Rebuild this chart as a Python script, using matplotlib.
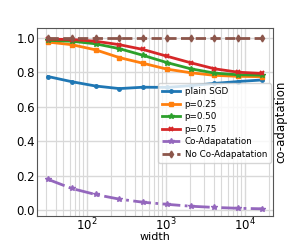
import numpy as np
import matplotlib.pyplot as plt

widths = [32, 64, 128, 256, 512, 1024, 2048, 4096, 8192, 16384]
plain_sgd = [0.775, 0.745, 0.720, 0.705, 0.713, 0.712, 0.722, 0.735, 0.746, 0.755]
p025 = [0.975, 0.960, 0.930, 0.885, 0.852, 0.818, 0.797, 0.782, 0.776, 0.774]
p050 = [0.985, 0.980, 0.965, 0.937, 0.898, 0.856, 0.820, 0.795, 0.785, 0.783]
p075 = [0.992, 0.990, 0.980, 0.960, 0.932, 0.893, 0.855, 0.820, 0.800, 0.793]
co_adapt = [0.178, 0.125, 0.090, 0.063, 0.045, 0.033, 0.022, 0.015, 0.010, 0.007]
no_co_adapt = [1.0] * len(widths)

fig = plt.figure(figsize=(3.03, 2.43), dpi=100)
ax = fig.add_axes([0.123, 0.111, 0.777, 0.7725])

lw = 2.0
ax.plot(widths, plain_sgd, color="#1f77b4", marker=".", ms=5, lw=lw, label="plain SGD")
ax.plot(widths, p025, color="#ff7f0e", marker="s", ms=3.2, lw=lw, label="p=0.25")
ax.plot(widths, p050, color="#2ca02c", marker="*", ms=4, lw=lw, label="p=0.50")
ax.plot(widths, p075, color="#d62728", marker="x", ms=3.5, mew=1.4, lw=lw, label="p=0.75")
ax.plot(widths, co_adapt, color="#9467bd", marker="*", ms=4, lw=lw, ls="-.", label="Co-Adapatation")
ax.plot(widths, no_co_adapt, color="#8c564b", marker="d", ms=3.5, lw=lw, ls="--", label="No Co-Adapatation")

ax.set_xscale("log")
ax.set_ylim(-0.035, 1.055)
ax.grid(True, which="major", color="#d9d9d9", lw=1.0)
ax.grid(True, which="minor", axis="x", color="#d9d9d9", lw=0.8)
ax.tick_params(which="both", labelsize=8.5, length=0, pad=1.5)
ax.tick_params(axis="x", which="both", pad=0.8)
ax.set_yticks([0.0, 0.2, 0.4, 0.6, 0.8, 1.0])
ax.set_xlabel("width", fontsize=8.0, labelpad=-1.2)
ax.yaxis.set_label_position("right")
ax.set_ylabel("co-adaptation", fontsize=8.5, labelpad=1.5)
for s in ax.spines.values():
    s.set_color("#555555")

ax.legend(loc="upper left", bbox_to_anchor=(0.513, 0.707), fontsize=6.3,
          handlelength=2.1, handletextpad=0.5, labelspacing=0.4,
          borderpad=0.45, borderaxespad=0.0, framealpha=0.8)

fig.savefig("out.png", dpi=100)
